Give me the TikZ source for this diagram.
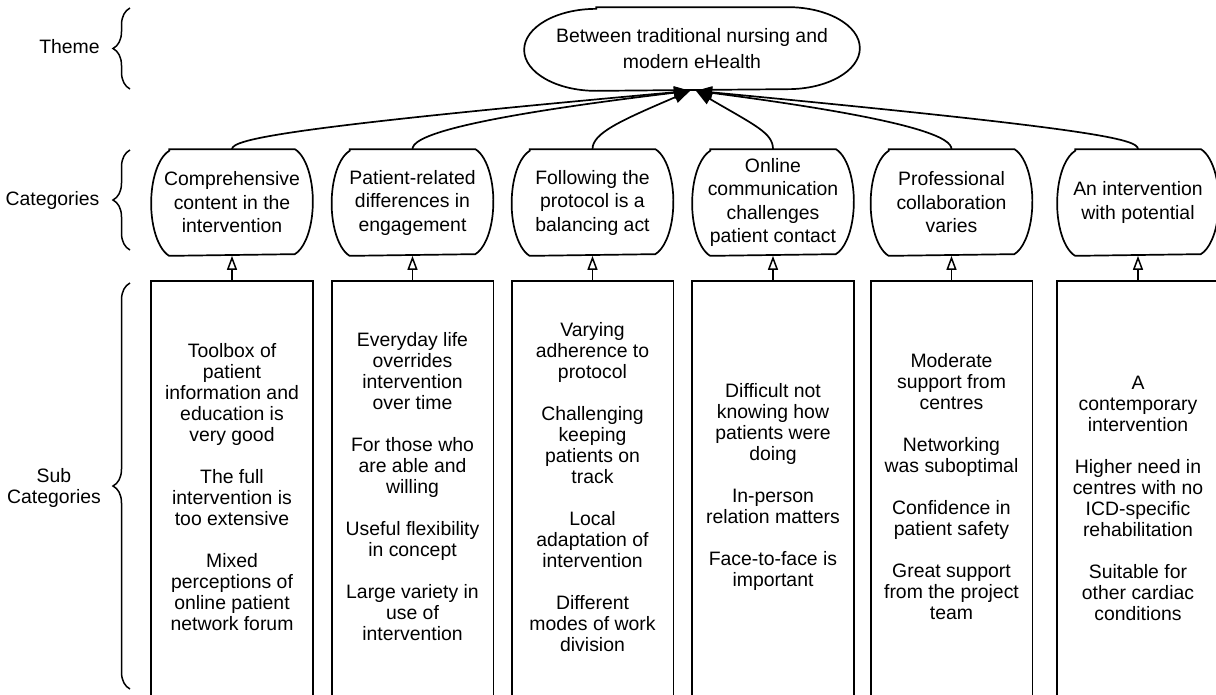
\documentclass[tikz,border=0pt]{standalone}
\usepackage{fontspec}
\setmainfont{Liberation Sans}
\usetikzlibrary{arrows.meta,decorations.pathreplacing,calc}
\begin{document}
\begin{tikzpicture}[x=1pt,y=1pt,line width=1.7pt,
  lbl/.style={inner sep=0pt,align=center,font=\fontsize{19.4}{21}\selectfont},
  subtext/.style={minimum width=160pt,minimum height=410pt,inner sep=0pt,align=center,font=\fontsize{19.4}{21}\selectfont},
  cattext/.style={minimum width=160pt,minimum height=105pt,inner sep=0pt,align=center,font=\fontsize{19.4}{23.5}\selectfont},
  themetext/.style={minimum width=334pt,minimum height=82pt,inner sep=0pt,align=center,font=\fontsize{19.4}{26}\selectfont},
  uparrow/.style={-{Triangle[open,length=14pt,width=10pt,line width=1.5pt]}},
  toparrow/.style={-{Triangle[length=16pt,width=12pt]}},
  sidebrace/.style={decorate,decoration={brace,amplitude=17pt},line width=1.5pt},
  outline/.style={draw=black,line width=1.7pt}
]
\useasboundingbox (0,0) rectangle (1216,-694);
\clip (0,0) rectangle (1216,-694);

% theme
\node[themetext] (theme) at (692,-49) {Between traditional nursing and\\modern eHealth};
\draw[outline] ($(theme.north west)+(72,0)$) -- ($(theme.north east)+(-72,0)$)
  arc[start angle=90,end angle=-90,x radius=72,y radius=41]
  -- ($(theme.south west)+(72,0)$)
  arc[start angle=270,end angle=90,x radius=72,y radius=41] -- cycle;

% categories
\node[cattext] (c1) at (232,-202.5) {Comprehensive\\content in the\\intervention};
\node[cattext] (c2) at (412.5,-202.5) {Patient-related\\differences in\\engagement};
\node[cattext] (c3) at (592.5,-202.5) {Following the\\protocol is a\\balancing act};
\node[cattext] (c4) at (773,-202.5) {Online\\communication\\challenges\\patient contact};
\node[cattext] (c5) at (951.5,-202.5) {Professional\\collaboration\\varies};
\node[cattext] (c6) at (1138,-202.5) {An intervention\\with potential};
\foreach \c in {c1,c2,c3,c4,c5,c6}{
  \draw[outline] ($(\c.north west)+(18,0)$) -- ($(\c.north east)+(-18,0)$)
    arc[start angle=75,end angle=-75,x radius=24.3,y radius=54.35]
    -- ($(\c.south west)+(18,0)$)
    arc[start angle=255,end angle=105,x radius=24.3,y radius=54.35] -- cycle;
}

% sub categories
\node[subtext] (s1) at (232,-487) {Toolbox of\\patient\\information and\\education is\\very good\\[21pt]The full\\intervention is\\too extensive\\[21pt]Mixed\\perceptions of\\online patient\\network forum};
\node[subtext] (s2) at (412.5,-487) {Everyday life\\overrides\\intervention\\over time\\[21pt]For those who\\are able and\\willing\\[21pt]Useful flexibility\\in concept\\[21pt]Large variety in\\use of\\intervention};
\node[subtext] (s3) at (592.5,-487) {Varying\\adherence to\\protocol\\[21pt]Challenging\\keeping\\patients on\\track\\[21pt]Local\\adaptation of\\intervention\\[21pt]Different\\modes of work\\division};
\node[subtext] (s4) at (773,-487) {Difficult not\\knowing how\\patients were\\doing\\[21pt]In-person\\relation matters\\[21pt]Face-to-face is\\important};
\node[subtext] (s5) at (951.5,-487) {Moderate\\support from\\centres\\[21pt]Networking\\was suboptimal\\[21pt]Confidence in\\patient safety\\[21pt]Great support\\from the project\\team};
\node[subtext,minimum height=432pt] (s6) at (1138,-498) {A\\contemporary\\intervention\\[21pt]Higher need in\\centres with no\\ICD-specific\\rehabilitation\\[21pt]Suitable for\\other cardiac\\conditions};
\foreach \s in {s1,s2,s3,s4,s5,s6}{
  \draw[outline] (\s.north west) rectangle ([yshift=-40pt]\s.south east);
}

% sub -> category arrows
\foreach \i in {1,...,6}{
  \draw[uparrow] (s\i.north) -- (c\i.south);
}

% category -> theme arrows
\draw[toparrow] (c1.north) .. controls +(0,10) and +(-400,-36) .. ([xshift=-2pt]theme.south);
\draw[toparrow] (c2.north) .. controls +(0,10) and +(-250,-30) .. ([xshift=-2pt]theme.south);
\draw[toparrow] (c3.north) .. controls +(0,16) and +(-70,-30) .. ([xshift=-2pt]theme.south);
\draw[toparrow] (c4.north) .. controls +(0,16) and +(60,-35) .. ([xshift=4pt]theme.south);
\draw[toparrow] (c5.north) .. controls +(0,10) and +(230,-30) .. ([xshift=4pt]theme.south);
\draw[toparrow] (c6.north) .. controls +(0,10) and +(400,-38) .. ([xshift=4pt]theme.south);

% left labels and braces
\node[lbl] (lt) at (69.5,-47) {Theme};
\node[lbl] (lc) at (52.5,-200) {Categories};
\node[lbl] (ls) at (54,-488) {Sub\\Categories};
\coordinate (bt1) at (130,-89);
\coordinate (bt2) at (130,-8);
\coordinate (bc1) at (130,-250);
\coordinate (bc2) at (130,-150);
\coordinate (bs1) at (130,-689);
\coordinate (bs2) at (130,-283);
\draw[sidebrace] (bt1) -- (bt2);
\draw[sidebrace] (bc1) -- (bc2);
\draw[sidebrace] (bs1) -- (bs2);
\end{tikzpicture}
\end{document}
